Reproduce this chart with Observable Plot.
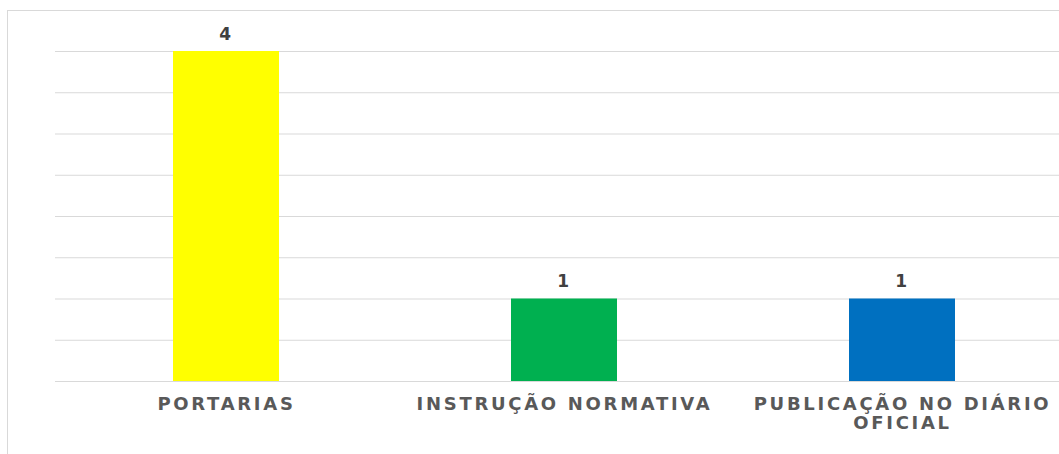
<!DOCTYPE html>
<html>
<head>
<meta charset="utf-8">
<script src="https://cdn.jsdelivr.net/npm/d3@7"></script>
<script src="https://cdn.jsdelivr.net/npm/@observablehq/plot@0.6"></script>
<style>
  html, body { margin: 0; padding: 0; background: #fff; overflow: hidden; }
  #wrap { position: relative; width: 1059px; height: 454px; overflow: hidden; }
  #border { position: absolute; left: 7px; top: 10px; right: -10px; bottom: -10px;
            border-left: 1.5px solid #d9d9d9; border-top: 1.5px solid #d9d9d9; pointer-events: none; }
  svg text { letter-spacing: 2.7px; }
</style>
</head>
<body>
<div id="wrap"><div id="border"></div></div>
<script>
const categories = ["PORTARIAS", "INSTRUÇÃO NORMATIVA", "PUBLICAÇÃO NO DIÁRIO OFICIAL"];
const tickLabels = ["PORTARIAS", "INSTRUÇÃO NORMATIVA", "PUBLICAÇÃO NO DIÁRIO\nOFICIAL"];
const values = [4, 1, 1];
const colors = ["#FFFF00", "#00B050", "#0070C0"];
const gridTicks = [0, 0.5, 1, 1.5, 2, 2.5, 3, 3.5, 4];

const data = categories.map((c, i) => ({cat: c, value: values[i]}));
const labelOf = new Map(categories.map((c, i) => [c, tickLabels[i]]));

const chart = Plot.plot({
  width: 1059,
  height: 454,
  marginLeft: 55,
  marginRight: -14,
  marginTop: 51,
  marginBottom: 73,
  style: {fontFamily: "'DejaVu Sans', 'Liberation Sans', Arial, sans-serif", background: "transparent", overflow: "hidden"},
  x: {domain: categories, paddingInner: 0.687, paddingOuter: 0.345, axis: null, label: null},
  y: {domain: [0, 4], axis: null},
  color: {domain: categories, range: colors},
  marks: [
    Plot.ruleY(gridTicks, {stroke: "#d9d9d9", strokeWidth: 1.2}),
    Plot.barY(data, {x: "cat", y: "value", fill: "cat"}),
    Plot.text(data, {x: "cat", y: "value", text: d => String(d.value), lineAnchor: "bottom", dy: -12,
      fontSize: 17, fontWeight: "bold", fill: "#404040"}),
    Plot.axisX({tickSize: 0, tickPadding: 14, tickFormat: d => labelOf.get(d), fontSize: 18,
      fontWeight: "bold", fill: "#595959", lineHeight: 1.1, color: "#595959", label: null})
  ]
});
document.getElementById("wrap").insertBefore(chart, document.getElementById("border"));
</script>
</body>
</html>
